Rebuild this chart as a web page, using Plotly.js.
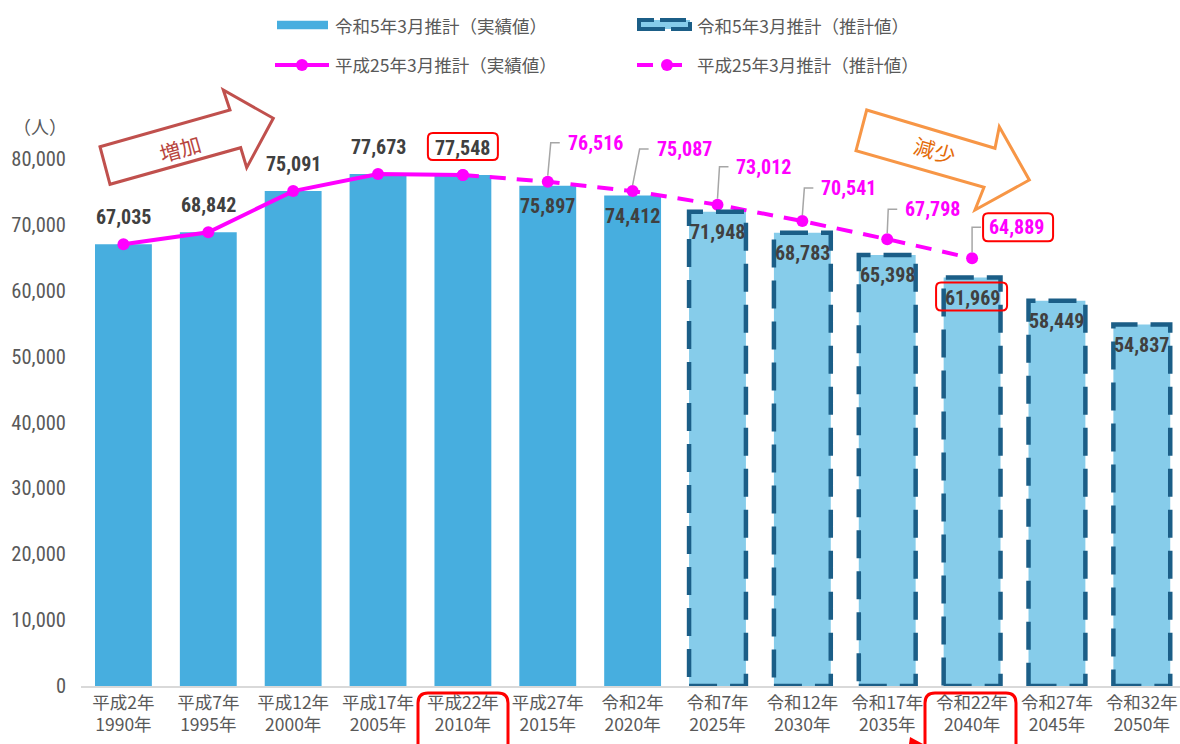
<!DOCTYPE html>
<html><head><meta charset="utf-8">
<script src="https://cdn.plot.ly/plotly-3.0.1.min.js"></script>
<style>html,body{margin:0;padding:0;background:#fff;}#chart{width:1180px;height:744px;}
.squeeze text.annotation-text.num, .squeeze .ytick text{transform-box:fill-box;transform-origin:center;transform:scaleX(0.82);}
</style>
</head><body><div id="chart"></div>
<script>
// ---------- data ----------
const eraLabels = ['平成2年','平成7年','平成12年','平成17年','平成22年','平成27年','令和2年','令和7年','令和12年','令和17年','令和22年','令和27年','令和32年'];
const yearLabels = ['1990年','1995年','2000年','2005年','2010年','2015年','2020年','2025年','2030年','2035年','2040年','2045年','2050年'];
const r5Actual = [67035, 68842, 75091, 77673, 77548, 75897, 74412];
const r5Estimate = [71948, 68783, 65398, 61969, 58449, 54837];
const h25Actual = [67035, 68842, 75091, 77673, 77548];
const h25Estimate = [77548, 76516, 75087, 73012, 70541, 67798, 64889];
const seriesNames = ['令和5年3月推計（実績値）','令和5年3月推計（推計値）','平成25年3月推計（実績値）','平成25年3月推計（推計値）'];
const unitLabel = '（人）';
const arrowLabels = ['増加','減少'];

// ---------- font detection ----------
function hasFont(f) {
  const c = document.createElement('canvas').getContext('2d');
  const s = '0123456789,0123456789';
  c.font = '40px monospace'; const a = c.measureText(s).width;
  c.font = `40px "${f}", monospace`; const b = c.measureText(s).width;
  c.font = '40px serif'; const a2 = c.measureText(s).width;
  c.font = `40px "${f}", serif`; const b2 = c.measureText(s).width;
  return a !== b || a2 !== b2;
}
const narrowCands = ['Roboto Condensed', 'DejaVu Sans Condensed', 'Liberation Sans Narrow', 'Arial Narrow', 'Noto Sans Condensed'];
const narrow = narrowCands.find(hasFont);
if (!narrow) document.getElementById('chart').classList.add('squeeze');

// ---------- geometry / styles ----------
const W = 1180, H = 744, ML = 81, MR = 0, MT = 106, MB = 58;
const PW = W - ML - MR, PH = H - MT - MB;
const px = x => (x - ML) / PW;
const py = y => (H - MB - y) / PH;
const NUM_FONT = (narrow ? `${narrow}, ` : '') + 'Roboto, Noto Sans CJK JP, sans-serif';
const JP_FONT = 'Noto Sans CJK JP, Noto Sans, sans-serif';
const C_BAR = '#47AEDF', C_EST = '#86CCEA', C_EDGE = '#1B5E87', C_MAG = '#FF00FF', C_TXT = '#595959', C_LBL = '#404040', C_RED = '#FF0000';
const BAR_W = 0.67;

const nA = r5Actual.length;
const xActual = r5Actual.map((_, i) => i);
const xEstimate = r5Estimate.map((_, i) => nA + i);
const xH25A = h25Actual.map((_, i) => i);
const startE = h25Actual.length - 1;
const xH25E = h25Estimate.map((_, i) => startE + i);
const fmt = v => v.toLocaleString('en-US');

// per-label leader offsets (pixels): [leader dx, leader rise]
const leaderOff = [null, [3, 39], [7, 42], [2, 38], [2, 33], [1, 30], [0, 31]];

const traces = [
  { type: 'bar', x: xActual, y: r5Actual, width: BAR_W, marker: { color: C_BAR }, hoverinfo: 'skip', showlegend: false },
  { type: 'bar', x: xEstimate, y: r5Estimate, width: BAR_W, marker: { color: C_EST }, hoverinfo: 'skip', showlegend: false },
  { type: 'scatter', mode: 'lines+markers', x: xH25A, y: h25Actual, line: { color: C_MAG, width: 4 }, marker: { color: C_MAG, size: 12 }, hoverinfo: 'skip', showlegend: false },
  { type: 'scatter', mode: 'lines+markers', x: xH25E, y: h25Estimate, line: { color: C_MAG, width: 4, dash: '16px,11px' }, marker: { color: C_MAG, size: 12 }, hoverinfo: 'skip', showlegend: false }
];

const shapes = [];
const annotations = [];

// dashed borders for estimate bars
xEstimate.forEach((xi, k) => {
  shapes.push({ type: 'rect', xref: 'x', yref: 'y', x0: xi - BAR_W / 2, x1: xi + BAR_W / 2, y0: 0, y1: r5Estimate[k],
    line: { color: C_EDGE, width: 4.5, dash: '28px,13px' }, fillcolor: 'rgba(0,0,0,0)', layer: 'above' });
});

function rr(x0, x1, y0, y1, r) {
  const a = Math.min(x0, x1), b = Math.max(x0, x1), c = Math.min(y0, y1), d = Math.max(y0, y1);
  return `M${a + r},${c} L${b - r},${c} Q${b},${c} ${b},${c + r} L${b},${d - r} Q${b},${d} ${b - r},${d} L${a + r},${d} Q${a},${d} ${a},${d - r} L${a},${c + r} Q${a},${c} ${a + r},${c} Z`;
}
function rrPaper(x0, x1, y0, y1, r) {
  const X = v => px(v), Y = v => py(v);
  return `M${X(x0 + r)},${Y(y0)} L${X(x1 - r)},${Y(y0)} Q${X(x1)},${Y(y0)} ${X(x1)},${Y(y0 + r)} L${X(x1)},${Y(y1 - r)} Q${X(x1)},${Y(y1)} ${X(x1 - r)},${Y(y1)} L${X(x0 + r)},${Y(y1)} Q${X(x0)},${Y(y1)} ${X(x0)},${Y(y1 - r)} L${X(x0)},${Y(y0 + r)} Q${X(x0)},${Y(y0)} ${X(x0 + r)},${Y(y0)} Z`;
}
function polyPaper(pts) {
  return pts.map((p, i) => (i ? 'L' : 'M') + px(p[0]) + ',' + py(p[1])).join(' ') + ' Z';
}

// bar value labels
const allBars = r5Actual.concat(r5Estimate);
allBars.forEach((v, i) => {
  const above = i < h25Actual.length;
  annotations.push({ xref: 'x', yref: 'y', x: i, y: v, text: fmt(v), showarrow: false, xanchor: 'center', yanchor: 'middle',
    yshift: above ? 27 : -20, font: { family: NUM_FONT, size: 20, color: C_LBL, weight: 'bold' } });
});

// H25 estimate labels with leader lines
h25Estimate.forEach((v, j) => {
  if (j === 0) return;
  const xi = xH25E[j];
  const [lx, ly] = leaderOff[j];
  shapes.push({ type: 'path', xref: 'x', yref: 'y', xsizemode: 'pixel', ysizemode: 'pixel', xanchor: xi, yanchor: v,
    path: `M0,6 L${lx},${ly} L${lx + 9},${ly}`, line: { color: '#A6A6A6', width: 1.5 }, layer: 'above' });
  annotations.push({ xref: 'x', yref: 'y', x: xi, y: v, text: fmt(v), showarrow: false, xanchor: 'left', yanchor: 'middle',
    xshift: lx + 15, yshift: ly, font: { family: NUM_FONT, size: 20, color: C_MAG, weight: 'bold' } });
});

// red highlight boxes around labels
const iPeak = h25Actual.length - 1;
shapes.push({ type: 'path', xref: 'x', yref: 'y', xsizemode: 'pixel', ysizemode: 'pixel', xanchor: iPeak, yanchor: h25Actual[iPeak],
  path: rr(-35, 35, 15, 42, 5), line: { color: C_RED, width: 2 } });
const iE = xEstimate[3];
shapes.push({ type: 'path', xref: 'x', yref: 'y', xsizemode: 'pixel', ysizemode: 'pixel', xanchor: iE, yanchor: r5Estimate[3],
  path: rr(-36, 35, -5, -33, 5), line: { color: C_RED, width: 2 } });
const jL = h25Estimate.length - 1;
shapes.push({ type: 'path', xref: 'x', yref: 'y', xsizemode: 'pixel', ysizemode: 'pixel', xanchor: xH25E[jL], yanchor: h25Estimate[jL],
  path: rr(11, 81, 17, 45, 5), line: { color: C_RED, width: 2 } });

// red boxes around tick labels
shapes.push({ type: 'path', xref: 'paper', yref: 'paper', path: rrPaper(418, 508, 693, 770, 10), line: { color: C_RED, width: 3 } });
shapes.push({ type: 'path', xref: 'paper', yref: 'paper', path: rrPaper(925, 1016, 693, 770, 10), line: { color: C_RED, width: 3 } });
shapes.push({ type: 'path', xref: 'paper', yref: 'paper', path: polyPaper([[910, 737], [923, 744], [909, 744]]), fillcolor: C_RED, line: { width: 0 } });

// block arrows
shapes.push({ type: 'path', xref: 'paper', yref: 'paper',
  path: polyPaper([[100, 146.7], [230, 110], [223.3, 90], [273.3, 118.3], [246.7, 167.7], [240.7, 147.7], [110, 184.3]]),
  fillcolor: '#FFFFFF', line: { color: '#C0504D', width: 3 } });
shapes.push({ type: 'path', xref: 'paper', yref: 'paper',
  path: polyPaper([[866.7, 110], [995, 148.3], [999.3, 126.7], [1029.3, 180], [975, 210], [984, 187.3], [856, 150.7]]),
  fillcolor: '#FFFFFF', line: { color: '#F79646', width: 3 } });
annotations.push({ xref: 'paper', yref: 'paper', x: px(180), y: py(148), xanchor: 'center', yanchor: 'middle', text: arrowLabels[0], showarrow: false, textangle: -16,
  font: { family: JP_FONT, size: 21, color: '#B8463F' } });
annotations.push({ xref: 'paper', yref: 'paper', x: px(935), y: py(150), xanchor: 'center', yanchor: 'middle', text: arrowLabels[1], showarrow: false, textangle: 16,
  font: { family: JP_FONT, size: 21, color: '#E46C0A' } });

// unit label
annotations.push({ xref: 'paper', yref: 'paper', x: px(40), y: py(126), xanchor: 'center', yanchor: 'middle', text: unitLabel, showarrow: false,
  font: { family: JP_FONT, size: 18, color: C_TXT } });

// custom legend
shapes.push({ type: 'rect', xref: 'paper', yref: 'paper', x0: px(277), x1: px(328), y0: py(29.3), y1: py(20.7), fillcolor: C_BAR, line: { width: 0 } });
shapes.push({ type: 'rect', xref: 'paper', yref: 'paper', x0: px(639), x1: px(690), y0: py(29), y1: py(20), fillcolor: C_EST, line: { color: C_EDGE, width: 4, dash: '26px,6px' } });
shapes.push({ type: 'line', xref: 'paper', yref: 'paper', x0: px(275), x1: px(329), y0: py(65), y1: py(65), line: { color: C_MAG, width: 4 } });
shapes.push({ type: 'circle', xref: 'paper', yref: 'paper', x0: px(296), x1: px(308), y0: py(71), y1: py(59), fillcolor: C_MAG, line: { width: 0 } });
shapes.push({ type: 'line', xref: 'paper', yref: 'paper', x0: px(637), x1: px(653), y0: py(65), y1: py(65), line: { color: C_MAG, width: 4 } });
shapes.push({ type: 'line', xref: 'paper', yref: 'paper', x0: px(667), x1: px(682), y0: py(65), y1: py(65), line: { color: C_MAG, width: 4 } });
shapes.push({ type: 'circle', xref: 'paper', yref: 'paper', x0: px(661), x1: px(673), y0: py(71), y1: py(59), fillcolor: C_MAG, line: { width: 0 } });
const legPos = [[333, 25], [695, 25], [333, 65], [695, 65]];
seriesNames.forEach((n, k) => {
  annotations.push({ xref: 'paper', yref: 'paper', x: px(legPos[k][0]), y: py(legPos[k][1]), xanchor: 'left', yanchor: 'middle',
    text: n, showarrow: false, font: { family: JP_FONT, size: 17.5, color: C_TXT } });
});

const layout = {
  width: W, height: H,
  margin: { l: ML, r: MR, t: MT, b: MB, pad: 0 },
  paper_bgcolor: '#FFFFFF', plot_bgcolor: '#FFFFFF',
  barmode: 'overlay',
  showlegend: false,
  xaxis: {
    range: [-0.5, 12.45], tickmode: 'array', tickvals: allBars.map((_, i) => i),
    ticktext: eraLabels.map((e, i) => e + '<br>' + yearLabels[i]),
    showgrid: false, zeroline: false, showline: true, linecolor: '#D9D9D9', linewidth: 1.5, ticks: '',
    tickfont: { family: JP_FONT, size: 17.5, color: C_TXT }, fixedrange: true
  },
  yaxis: {
    range: [0, 88000], tickmode: 'linear', tick0: 0, dtick: 10000, tickformat: ',d',
    showgrid: false, zeroline: false, showline: false, ticks: '', ticklabelstandoff: 14,
    tickfont: { family: NUM_FONT, size: 20.5, color: C_TXT }, fixedrange: true
  },
  shapes: shapes,
  annotations: annotations
};

Plotly.newPlot('chart', traces, layout, { displayModeBar: false, staticPlot: true }).then(() => {
  if (!narrow) {
    document.querySelectorAll('#chart text.annotation-text').forEach(t => {
      if (/^[\d,]+$/.test(t.textContent)) t.classList.add('num');
    });
  }
});
</script>
</body></html>
